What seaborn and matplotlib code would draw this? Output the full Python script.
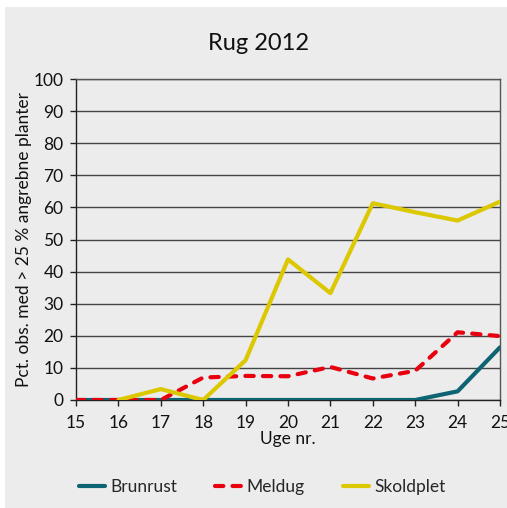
import numpy as np
import pandas as pd
import matplotlib
matplotlib.use("Agg")
import matplotlib.pyplot as plt
from matplotlib.patches import Rectangle
import seaborn as sns

weeks = [15, 16, 17, 18, 19, 20, 21, 22, 23, 24, 25]
brunrust = [0, 0, 0, 0, 0, 0, 0, 0, 0, 2.7, 16.4]
meldug = [0, 0, 0, 7.0, 7.5, 7.4, 10.3, 6.7, 9.1, 21.1, 19.9]
skoldplet = [np.nan, 0, 3.4, 0, 12.4, 43.8, 33.3, 61.3, 58.5, 55.9, 61.8]
series_names = ["Brunrust", "Meldug", "Skoldplet"]
colors = ["#0E6472", "#E8000E", "#DCC800"]
styles = ["-", (0, (2, 2.2)), "-"]
yticks = list(range(0, 101, 10))

sns.set_theme(style="white")
plt.rcParams['font.family'] = ['Lato', 'DejaVu Sans']

bg = "#ECECEC"
fig = plt.figure(figsize=(5.07, 5.08), dpi=100, facecolor="white")
fig.patches.append(Rectangle((5/507, 0.0), 1 - 5/507, 1 - 7/508, transform=fig.transFigure,
                             facecolor=bg, edgecolor="none", zorder=-10))
ax = fig.add_axes([76/507, 1 - 400/508, 424/507, 321/508])
ax.set_facecolor(bg)

df = pd.DataFrame({"Uge": weeks, "Brunrust": brunrust, "Meldug": meldug, "Skoldplet": skoldplet})
for name, c, ls in zip(series_names, colors, styles):
    sns.lineplot(data=df, x="Uge", y=name, ax=ax, color=c, linestyle=ls, linewidth=3,
                 label=name, zorder=3, dash_capstyle="round")

ax.set_xlim(15, 25)
ax.set_ylim(0, 100)
ax.set_xticks(weeks)
ax.set_yticks(yticks)
ax.yaxis.grid(True, color="#444444", linewidth=1)
ax.xaxis.grid(False)
ax.set_axisbelow(True)
for s in ["left", "bottom"]:
    ax.spines[s].set_color("#222222")
    ax.spines[s].set_linewidth(1)
for s in ["top", "right"]:
    ax.spines[s].set_color("#555555")
    ax.spines[s].set_linewidth(1)
ax.tick_params(axis="both", which="major", direction="out", length=4, width=1,
               color="#222222", labelsize=12.5, labelcolor="#111111",
               bottom=True, left=True)
ax.tick_params(axis="x", pad=7)
ax.tick_params(axis="y", pad=5)
ax.set_xlabel("Uge nr.", fontsize=12.5, color="#111111", labelpad=0)
ax.set_ylabel("Pct. obs. med > 25 % angrebne planter", fontsize=12.5, color="#111111", labelpad=1)
fig.text(0.51, 1 - 43/508, "Rug 2012", ha="center", va="center", fontsize=17, color="#111111")

handles, labels = ax.get_legend_handles_labels()
ax.legend(handles, labels, loc="center", bbox_to_anchor=(262/507, 1 - 487/508),
          bbox_transform=fig.transFigure, ncol=3, frameon=False, fontsize=12.5,
          handlelength=1.5, handletextpad=0.3, columnspacing=2.2)

fig.savefig("out.png", dpi=100, facecolor="white")
